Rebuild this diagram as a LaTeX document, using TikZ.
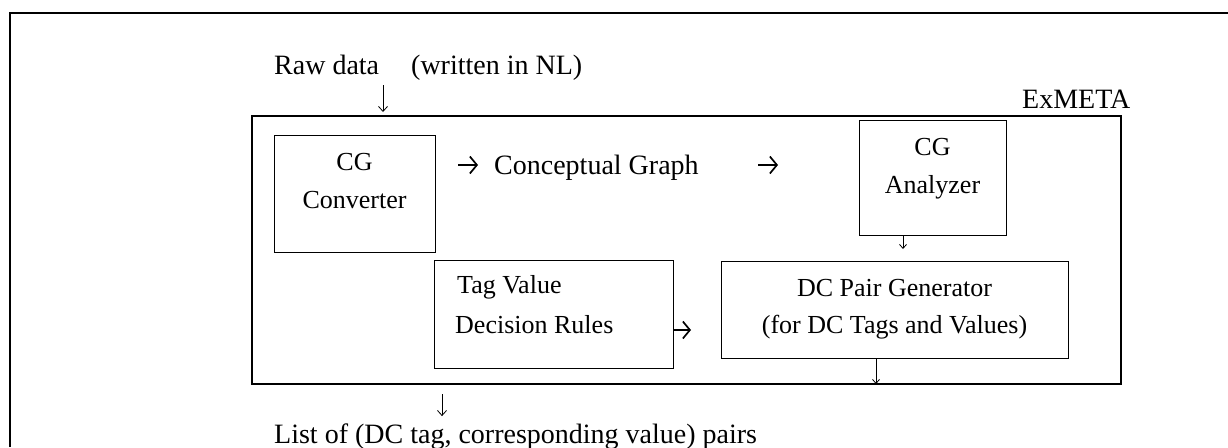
\documentclass[tikz,border=0pt]{standalone}
\usepackage{fontspec}
\setmainfont{Liberation Serif}
\usetikzlibrary{arrows.meta}
\begin{document}
\begin{tikzpicture}[x=1pt,y=-1pt,
  frame/.style={draw, line width=2pt},
  box/.style={draw, line width=1.4pt, inner sep=0pt, anchor=north west},
  big/.style={font=\fontsize{28}{34}\selectfont, inner sep=0pt},
  mid/.style={font=\fontsize{28}{34}\selectfont, inner sep=0pt},
  small/.style={font=\fontsize{26}{30}\selectfont, inner sep=0pt},
  thinarr/.style={line width=0.8pt, -{Straight Barb[length=5pt,width=9pt]}},
  tinyarr/.style={line width=0.8pt, -{Straight Barb[length=4pt,width=7pt]}},
  boldarr/.style={line width=1.7pt, -{Straight Barb[length=7pt,width=17pt]}}]
\useasboundingbox (0,0) rectangle (1228,447);
% outer frame (cut off at right and bottom)
\draw[frame] (10,447) -- (10,13) -- (1228,13);
% boxes
\node[box, line width=2pt, minimum width=869pt, minimum height=268pt] (exmeta) at (251,115) {};
\node[box, minimum width=161pt, minimum height=117pt] (conv) at (274,135) {};
\node[box, minimum width=147pt, minimum height=115pt] (anal) at (859,120) {};
\node[box, minimum width=239pt, minimum height=108pt] (tag) at (434,260) {};
\node[box, minimum width=347pt, minimum height=97pt] (dcp) at (721,261) {};
% texts
\node[big, anchor=base west] (raw) at (274,74) {Raw data};
\node[big, anchor=base west] (written) at (411,74) {(written in NL)};
\node[big, anchor=base west] (exlabel) at (1022,108) {ExMETA};
\node[big, anchor=base west] (list) at (274,443) {List of (DC tag, corresponding value) pairs};
\node[small, anchor=base] (conv1) at (354.5,170) {CG};
\node[small, anchor=base] (conv2) at (354.5,208) {Converter};
\node[small, anchor=base] (anal1) at (932.5,155) {CG};
\node[small, anchor=base] (anal2) at (932.5,193) {Analyzer};
\node[small, anchor=base west] (tag1) at (457,293) {Tag Value};
\node[small, anchor=base west] (tag2) at (455,333) {Decision Rules};
\node[small, anchor=base] (dcp1) at (894.5,296) {DC Pair Generator};
\node[small, anchor=base] (dcp2) at (894.5,333) {(for DC Tags and Values)};
\node[mid, anchor=base west] (cgtext) at (494,174) {Conceptual Graph};
% connectors
\coordinate (c1) at (458,165);
\draw[boldarr] (c1) -- ++(20,0);
\coordinate (c2) at (758,165);
\draw[boldarr] (c2) -- ++(20,0);
\coordinate (r1) at (383,85);
\draw[thinarr] (r1) -- ([yshift=3pt]exmeta.north -| r1);
\coordinate (a1) at (903,0);
\draw[tinyarr] (anal.south -| a1) -- ([yshift=12pt]dcp.north -| a1);
\coordinate (d1) at (876,0);
\draw[tinyarr] (dcp.south -| d1) -- ([yshift=1pt]exmeta.south -| d1);
\coordinate (e1) at (442,0);
\draw[thinarr] ([yshift=-9pt]exmeta.south -| e1) -- ([yshift=7pt]list.north -| e1);
\coordinate (t1) at (691,330);
\draw[boldarr] (tag.east |- t1) -- (t1);
\end{tikzpicture}
\end{document}
